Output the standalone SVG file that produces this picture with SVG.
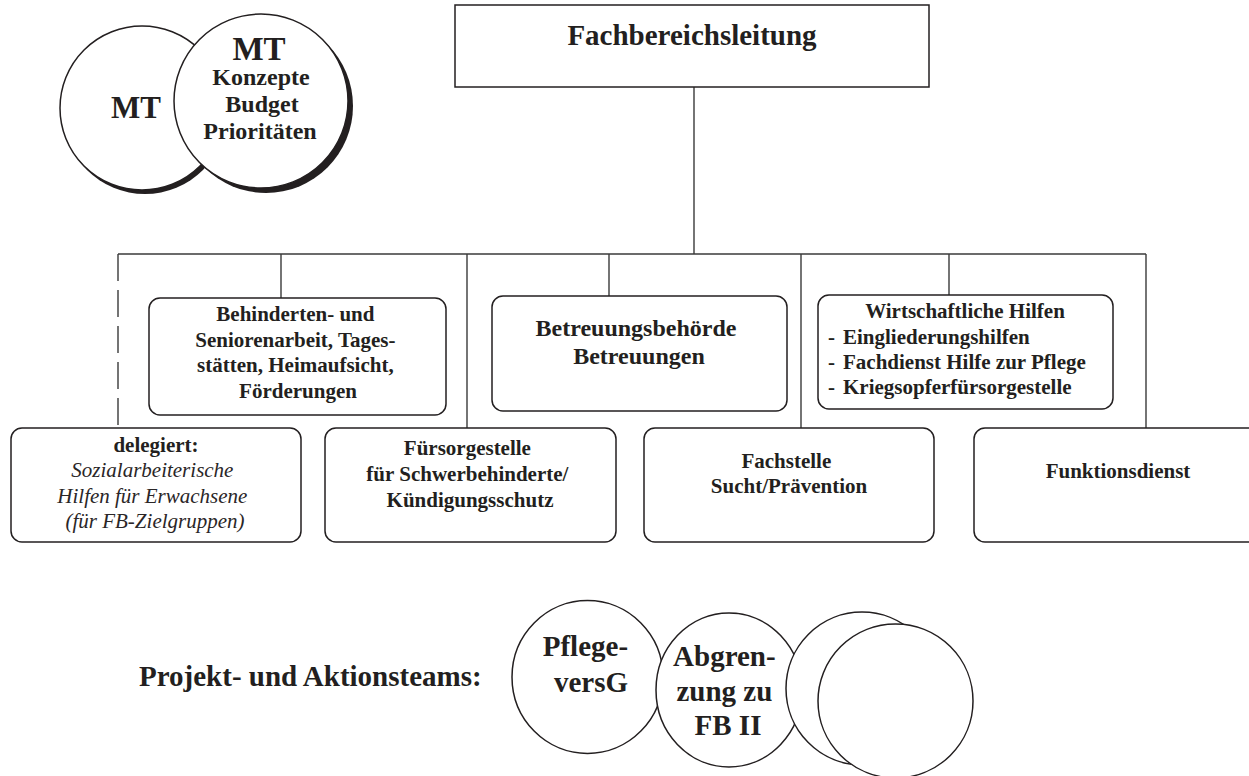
<svg xmlns="http://www.w3.org/2000/svg" width="1249" height="776" viewBox="0 0 1249 776">
  <style>
    text { font-family: "Liberation Serif", "Times New Roman", serif; fill: #231f20; }
    .b { font-weight: bold; }
    .it { font-style: italic; fill: #2a2627; }
    .c { text-anchor: middle; }
    .box { fill: #fff; stroke: #231f20; stroke-width: 1.5; }
    .circ { fill: #fff; stroke: #231f20; stroke-width: 1.5; }
    .shadow { fill: #231f20; }
    .conn { stroke: #3a3a3a; stroke-width: 1.4; fill: none; }
    .dash { stroke-dasharray: 27 9; }
  </style>

  <rect width="1249" height="776" fill="#fff"/>

  <!-- management team circles -->
  <g id="mt-left">
    <circle class="shadow" cx="145" cy="112" r="82"/>
    <circle class="circ" cx="142" cy="108" r="82"/>
    <text class="b c" x="136" y="118" font-size="31">MT</text>
  </g>
  <g id="mt-right">
    <circle class="shadow" cx="266" cy="106" r="87"/>
    <circle class="circ" cx="261" cy="101" r="87"/>
    <text class="b c" x="259" y="60" font-size="33">MT</text>
    <text class="b c" x="261" y="85" font-size="24">Konzepte</text>
    <text class="b c" x="262" y="112" font-size="24">Budget</text>
    <text class="b c" x="260" y="139" font-size="24">Prioritäten</text>
  </g>

  <!-- connectors -->
  <g id="connectors">
    <line class="conn" x1="694" y1="87" x2="694" y2="254"/>
    <line class="conn" x1="118" y1="254" x2="1146" y2="254"/>
    <line class="conn dash" x1="118" y1="254" x2="118" y2="428"/>
    <line class="conn" x1="281" y1="254" x2="281" y2="298"/>
    <line class="conn" x1="467" y1="254" x2="467" y2="428"/>
    <line class="conn" x1="609" y1="254" x2="609" y2="296"/>
    <line class="conn" x1="801" y1="254" x2="801" y2="428"/>
    <line class="conn" x1="949" y1="254" x2="949" y2="295"/>
    <line class="conn" x1="1146" y1="254" x2="1146" y2="428"/>
  </g>

  <!-- head of department -->
  <g id="fachbereichsleitung">
    <rect class="box" x="455" y="5" width="474" height="82"/>
    <text class="b c" x="692" y="45" font-size="29">Fachbereichsleitung</text>
  </g>

  <!-- upper row -->
  <g id="behinderten">
    <rect class="box" x="149" y="298" width="297" height="117" rx="11"/>
    <text class="b c" font-size="21">
      <tspan x="298" y="321">Behinderten- und</tspan>
      <tspan x="298" y="346.5">Seniorenarbeit, Tages-</tspan>
      <tspan x="298" y="372">stätten, Heimaufsicht,</tspan>
      <tspan x="298" y="397.5">Förderungen</tspan>
    </text>
  </g>
  <g id="betreuung">
    <rect class="box" x="492" y="296" width="295" height="115" rx="11"/>
    <text class="b c" font-size="24">
      <tspan x="639" y="336">Betreuungsbehörde</tspan>
      <tspan x="639" y="364">Betreuungen</tspan>
    </text>
  </g>
  <g id="wirtschaft">
    <rect class="box" x="818" y="295" width="295" height="114" rx="11"/>
    <text class="b c" x="965" y="318" font-size="21">Wirtschaftliche Hilfen</text>
    <text class="b" font-size="21" x="828" y="344">-<tspan x="843">Eingliederungshilfen</tspan></text>
    <text class="b" font-size="21" x="828" y="369">-<tspan x="843">Fachdienst Hilfe zur Pflege</tspan></text>
    <text class="b" font-size="21" x="828" y="394">-<tspan x="843">Kriegsopferfürsorgestelle</tspan></text>
  </g>

  <!-- lower row -->
  <g id="delegiert">
    <rect class="box" x="11" y="428" width="290" height="114" rx="11"/>
    <text class="b c" x="156" y="452" font-size="21">delegiert:</text>
    <text class="it c" font-size="21">
      <tspan x="155" y="477">Sozialarbeiterische</tspan>
      <tspan x="155" y="503">Hilfen für Erwachsene</tspan>
      <tspan x="155" y="528">(für FB-Zielgruppen)</tspan>
    </text>
  </g>
  <g id="fuersorgestelle">
    <rect class="box" x="325" y="428" width="291" height="114" rx="11"/>
    <text class="b c" font-size="21">
      <tspan x="470" y="455">Fürsorgestelle</tspan>
      <tspan x="470" y="481">für Schwerbehinderte/</tspan>
      <tspan x="470" y="507">Kündigungsschutz</tspan>
    </text>
  </g>
  <g id="fachstelle">
    <rect class="box" x="644" y="428" width="290" height="114" rx="11"/>
    <text class="b c" font-size="21">
      <tspan x="789" y="468">Fachstelle</tspan>
      <tspan x="789" y="493">Sucht/Prävention</tspan>
    </text>
  </g>
  <g id="funktionsdienst">
    <rect class="box" x="974" y="428" width="290" height="114" rx="11"/>
    <text class="b c" x="1118" y="478" font-size="21">Funktionsdienst</text>
  </g>

  <!-- project and action teams -->
  <g id="teams-label">
    <text class="b" x="139" y="686" font-size="29">Projekt- und Aktionsteams:</text>
  </g>
  <g id="team-pflege">
    <ellipse class="circ" cx="587.5" cy="677" rx="75.5" ry="76.5"/>
    <text class="b c" font-size="29">
      <tspan x="589" y="656">Pflege-</tspan>
      <tspan x="591" y="692">versG</tspan>
    </text>
  </g>
  <g id="team-abgrenzung">
    <ellipse class="circ" cx="729" cy="690" rx="73" ry="77"/>
    <text class="b c" font-size="29">
      <tspan x="728" y="666">Abgren-</tspan>
      <tspan x="728" y="701">zung zu</tspan>
      <tspan x="728" y="735">FB II</tspan>
    </text>
  </g>
  <g id="team-3">
    <ellipse class="circ" cx="862" cy="688.5" rx="76" ry="76.5"/>
  </g>
  <g id="team-4">
    <ellipse class="circ" cx="895.5" cy="701" rx="77.5" ry="77"/>
  </g>
</svg>
